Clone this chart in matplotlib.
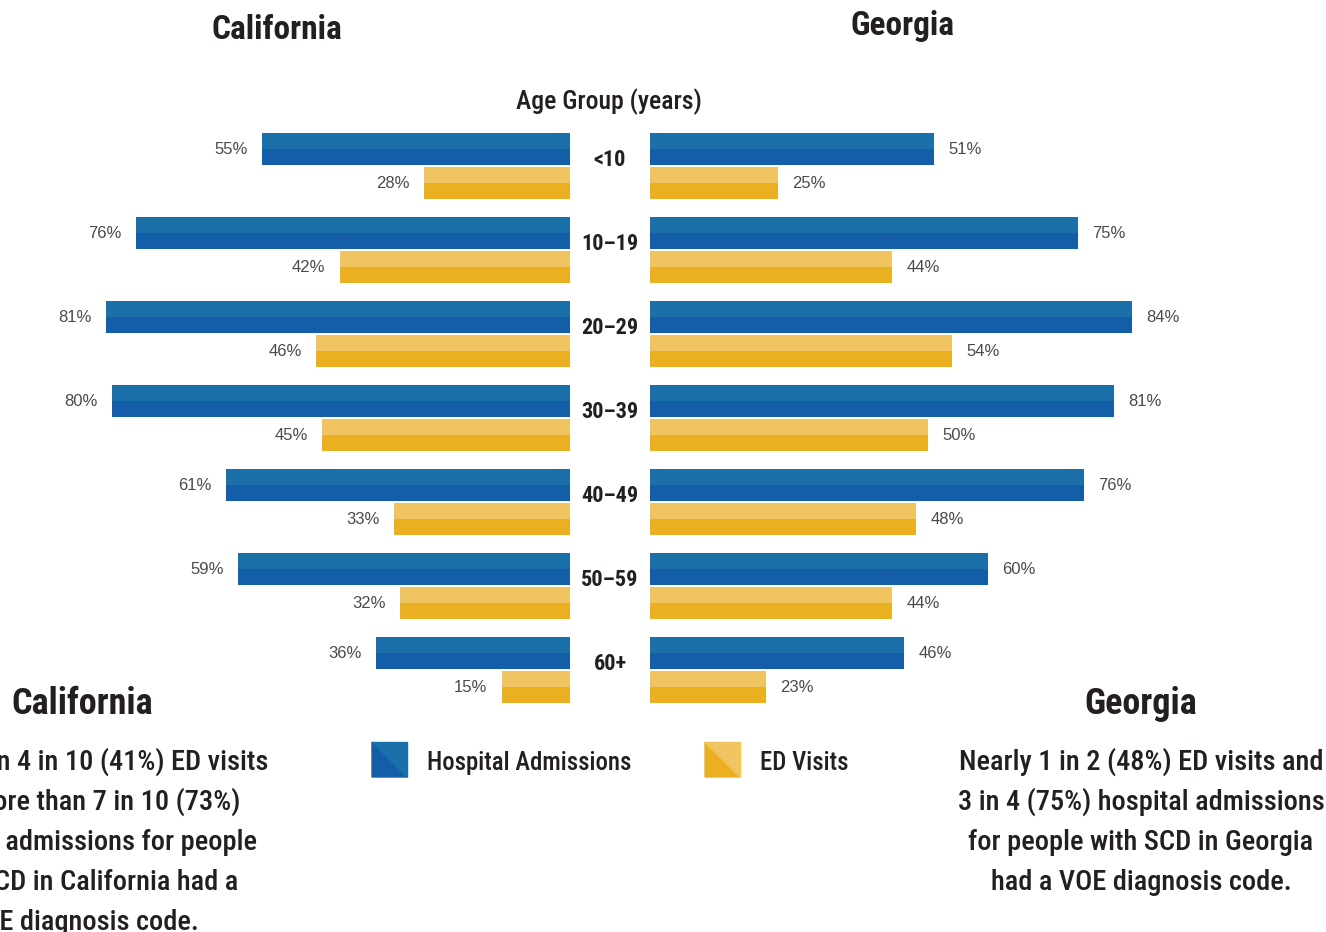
import matplotlib
matplotlib.use("Agg")
import matplotlib.pyplot as plt
from matplotlib import font_manager
from matplotlib.patches import Polygon
from matplotlib.transforms import blended_transform_factory

# age groups and share of visits / admissions with a VOE code (%)
age_groups = ['<10', '10–19', '20–29', '30–39', '40–49', '50–59', '60+']
ca_hospital = [55, 76, 81, 80, 61, 59, 36]
ca_ed = [28, 42, 46, 45, 33, 32, 15]
ga_hospital = [51, 75, 84, 81, 76, 60, 46]
ga_ed = [25, 44, 54, 50, 48, 44, 23]

ca_note = ["More than 4 in 10 (41%) ED visits", "and more than 7 in 10 (73%)",
           "hospital admissions for people", "with SCD in California had a",
           "VOE diagnosis code."]
ga_note = ["Nearly 1 in 2 (48%) ED visits and", "3 in 4 (75%) hospital admissions",
           "for people with SCD in Georgia", "had a VOE diagnosis code."]

BLUE_TOP, BLUE_BOT = '#1b70aa', '#145da8'
GOLD_TOP, GOLD_BOT = '#f1c462', '#ebb021'
DARK = '#231f20'
GREY = '#4a4a4a'


def pick_narrow():
    entries = font_manager.fontManager.ttflist
    names = {f.name for f in entries}
    for name in ['Liberation Sans Narrow', 'Roboto Condensed', 'Noto Sans Condensed',
                 'Open Sans Condensed', 'DejaVu Sans Condensed']:
        if name in names:
            return name, 'normal'
    for f in entries:
        if f.stretch in ('condensed', 'semi-condensed', 'extra-condensed', 'ultra-condensed'):
            return f.name, f.stretch
    return 'Roboto', 'normal'


NARROW, STRETCH = pick_narrow()
plt.rcParams['font.family'] = [NARROW, 'DejaVu Sans']
plt.rcParams['font.stretch'] = STRETCH

W, H = 1326, 932
fig = plt.figure(figsize=(W / 100, H / 100), dpi=100)


def px(x, y):
    return x / W, 1 - y / H


# bars start a little behind the age labels, so zero sits under the middle strip
SCALE = 6.0   # pixels per percentage point
OFFSET = 22   # pixels between the zero line and the visible bar start
top, bottom = 120, 720
ax_ca = fig.add_axes([0, 1 - bottom / H, 570 / W, (bottom - top) / H])
ax_ga = fig.add_axes([650 / W, 1 - bottom / H, (W - 650) / W, (bottom - top) / H])

step = 84.0
ylim = ((bottom - 166.5) / step, (top - 166.5) / step)
bh = 32 / step
half = bh / 2


def draw_side(ax, hosp, ed, invert):
    ys = list(range(len(age_groups)))
    hy = [y - 0.012 - bh for y in ys]
    ey = [y + 0.006 for y in ys]
    ax.barh([y + half / 2 for y in hy], hosp, height=half, color=BLUE_TOP, linewidth=0)
    ax.barh([y + 1.5 * half for y in hy], hosp, height=half, color=BLUE_BOT, linewidth=0)
    ax.barh([y + half / 2 for y in ey], ed, height=half, color=GOLD_TOP, linewidth=0)
    ax.barh([y + 1.5 * half for y in ey], ed, height=half, color=GOLD_BOT, linewidth=0)
    gap = 2.4
    ha = 'right' if invert else 'left'
    for y, v in zip(hy, hosp):
        ax.text(v + gap, y + half, f'{v}%', ha=ha, va='center', fontsize=12,
                color=GREY, family='Liberation Sans')
    for y, v in zip(ey, ed):
        ax.text(v + gap, y + half, f'{v}%', ha=ha, va='center', fontsize=12,
                color=GREY, family='Liberation Sans')
    ax.set_ylim(*ylim)
    ax.axis('off')


draw_side(ax_ca, ca_hospital, ca_ed, True)
ax_ca.set_xlim((570 + OFFSET) / SCALE, OFFSET / SCALE)
draw_side(ax_ga, ga_hospital, ga_ed, False)
ax_ga.set_xlim(OFFSET / SCALE, (W - 650 + OFFSET) / SCALE)

trans = blended_transform_factory(fig.transFigure, ax_ca.transData)
for i, lab in enumerate(age_groups):
    ax_ca.text(610 / W, i - 0.08, lab, transform=trans, ha='center', va='center',
               fontsize=16, fontweight='bold', color=DARK, clip_on=False)

fig.text(*px(277, 30), 'California', ha='center', va='center', fontsize=24,
         fontweight='bold', color=DARK)
fig.text(*px(902, 26), 'Georgia', ha='center', va='center', fontsize=24,
         fontweight='bold', color=DARK)
fig.text(*px(609, 102), 'Age Group (years)', ha='center', va='center', fontsize=18.5,
         fontweight='medium', color=DARK)

# state notes below the chart
fig.text(*px(82, 704), 'California', ha='center', va='center', fontsize=26,
         fontweight='bold', color=DARK)
for k, line in enumerate(ca_note):
    fig.text(*px(82, 762 + 40 * k), line, ha='center', va='center', fontsize=20.4,
             fontweight='medium', color=DARK)
fig.text(*px(1141, 704), 'Georgia', ha='center', va='center', fontsize=26,
         fontweight='bold', color=DARK)
for k, line in enumerate(ga_note):
    fig.text(*px(1141, 762 + 40 * k), line, ha='center', va='center', fontsize=20.4,
             fontweight='medium', color=DARK)

# legend swatches split on the diagonal
for x0, c_lo, c_hi, label in [(372, BLUE_BOT, BLUE_TOP, 'Hospital Admissions'),
                              (705, GOLD_BOT, GOLD_TOP, 'ED Visits')]:
    y0, s = 742, 35
    fig.patches.append(Polygon([px(x0, y0), px(x0 + s, y0 + s), px(x0, y0 + s)],
                               closed=True, color=c_lo, transform=fig.transFigure))
    fig.patches.append(Polygon([px(x0, y0), px(x0 + s, y0), px(x0 + s, y0 + s)],
                               closed=True, color=c_hi, transform=fig.transFigure))
    fig.text(*px(x0 + 55, y0 + 21), label, ha='left', va='center', fontsize=17.8,
             fontweight='medium', color=DARK)

fig.savefig('out.png', dpi=100)
